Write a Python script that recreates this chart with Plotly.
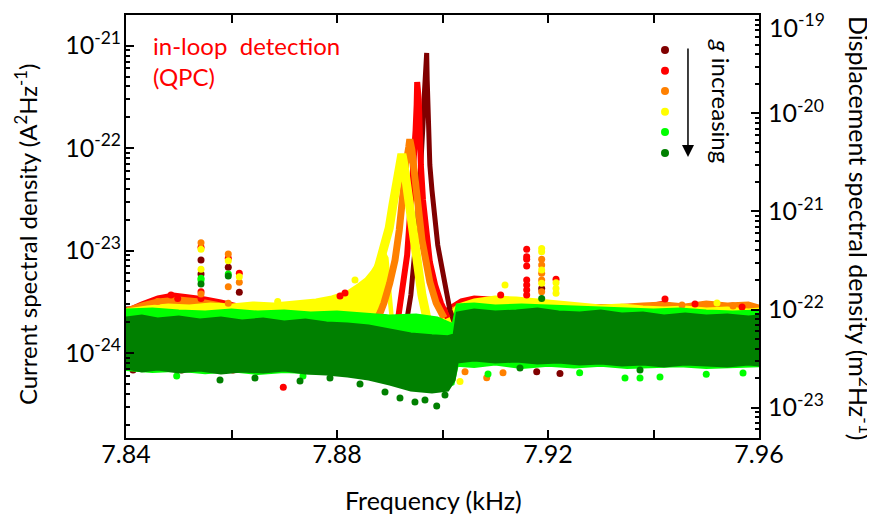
import plotly.graph_objects as go

# All spectral values below are in units of 1e-24 A^2/Hz (scaled when plotted)
SCALE = 1e-24

COLORS = {
    "darkred": "#800000",
    "red": "#FF0000",
    "orange": "#FF8000",
    "yellow": "#FFFF00",
    "lightgreen": "#00FF00",
    "darkgreen": "#008000",
}

# ---- noise floor bands (upper / lower edge of each point cloud) ----
dr_band_f = [7.840, 7.850, 7.860, 7.870, 7.880, 7.8925, 7.9000, 7.9020, 7.905, 7.910,
             7.920, 7.930, 7.940, 7.950, 7.960]
dr_band_hi = [2.75, 2.88, 2.81, 2.88, 2.94, 2.10, 2.10, 2.75, 2.94, 3.01,
              2.94, 2.88, 2.94, 2.88, 2.81]
dr_band_lo = [1.20] * 15

red_band_f = [7.840, 7.843, 7.846, 7.849, 7.852, 7.855, 7.858, 7.862, 7.868, 7.874,
              7.879, 7.8825, 7.885, 7.8870, 7.890, 7.8995, 7.9010, 7.9035, 7.906, 7.909,
              7.912, 7.916, 7.922, 7.930, 7.938, 7.942, 7.944, 7.948, 7.952, 7.955,
              7.957, 7.960]
red_band_hi = [2.63, 3.08, 3.52, 3.77, 3.60, 3.44, 3.22, 2.88, 2.88, 2.94,
               3.29, 3.68, 3.29, 2.51, 2.10, 2.10, 2.75, 3.29, 3.52, 3.44,
               3.15, 3.01, 2.88, 2.88, 2.88, 3.15, 2.88, 2.94, 2.88, 3.01,
               2.88, 2.75]
red_band_lo = [1.20] * 32

or_band_f = [7.840, 7.843, 7.846, 7.850, 7.854, 7.857, 7.860, 7.865, 7.870, 7.875,
             7.880, 7.884, 7.8875, 7.8885, 7.8995, 7.9005, 7.903, 7.908, 7.914, 7.920,
             7.926, 7.932, 7.938, 7.942, 7.946, 7.950, 7.954, 7.958, 7.960]
or_band_hi = [2.69, 3.01, 3.29, 3.44, 3.29, 3.08, 2.88, 2.88, 2.94, 3.01,
              3.15, 3.29, 2.63, 2.10, 2.10, 2.51, 2.88, 3.01, 3.08, 2.94,
              2.88, 2.88, 3.01, 3.08, 2.94, 3.15, 3.01, 3.08, 2.88]
or_band_lo = [1.20] * 29

ye_band_f = [7.840, 7.844, 7.848, 7.852, 7.856, 7.860, 7.864, 7.868, 7.872, 7.876,
             7.879, 7.882, 7.884, 7.8855, 7.8866, 7.8878, 7.8887, 7.8895, 7.8905, 7.8925,
             7.8950, 7.8975, 7.8995, 7.9010, 7.903, 7.906, 7.910, 7.914, 7.918, 7.922,
             7.926, 7.930, 7.934, 7.938, 7.942, 7.946, 7.950, 7.954, 7.958, 7.960]
ye_band_hi = [2.63, 2.81, 2.94, 2.88, 3.01, 2.94, 3.08, 3.01, 3.15, 3.29,
              3.52, 3.94, 4.61, 5.28, 6.18, 7.73, 10.13, 8.46, 2.20, 2.10,
              2.10, 2.01, 2.10, 2.30, 2.94, 3.29, 3.52, 3.44, 3.29, 3.15,
              3.01, 2.88, 2.94, 2.81, 2.75, 2.81, 2.69, 2.75, 2.63, 2.69]
ye_band_lo = [1.20] * 13 + [1.68, 2.20, 2.88, 3.94, 4.93, 1.68, 1.60, 1.60, 1.53, 1.53] + [1.20] * 17

lg_band_f = [7.840, 7.845, 7.850, 7.855, 7.860, 7.865, 7.870, 7.875, 7.880, 7.885,
             7.890, 7.895, 7.899, 7.9020, 7.9028, 7.906, 7.910, 7.915, 7.920, 7.925,
             7.930, 7.935, 7.940, 7.945, 7.950, 7.955, 7.960]
lg_band_hi = [2.63, 2.69, 2.57, 2.51, 2.63, 2.51, 2.57, 2.46, 2.51, 2.40,
              2.30, 2.35, 2.20, 1.88, 2.94, 3.01, 2.88, 2.94, 2.88, 2.81,
              2.75, 2.69, 2.63, 2.69, 2.57, 2.51, 2.57]
lg_band_lo = [0.69, 0.66, 0.68, 0.64, 0.67, 0.63, 0.66, 0.64, 0.64, 0.59,
              0.51, 0.45, 0.43, 0.50, 0.76, 0.74, 0.78, 0.72, 0.76, 0.73,
              0.76, 0.72, 0.74, 0.75, 0.72, 0.73, 0.75]

dg_band_f = [7.840, 7.843, 7.846, 7.850, 7.854, 7.858, 7.862, 7.866, 7.870, 7.874,
             7.878, 7.882, 7.886, 7.890, 7.894, 7.898, 7.901, 7.9022, 7.9028, 7.906,
             7.910, 7.914, 7.918, 7.922, 7.926, 7.930, 7.934, 7.938, 7.942, 7.946,
             7.950, 7.954, 7.958, 7.960]
dg_band_hi = [2.20, 2.30, 2.15, 2.25, 2.10, 2.20, 2.05, 2.15, 2.01, 2.10,
              1.96, 1.92, 1.84, 1.68, 1.53, 1.47, 1.44, 1.50, 2.46, 2.63,
              2.51, 2.57, 2.69, 2.51, 2.46, 2.57, 2.40, 2.46, 2.30, 2.40,
              2.30, 2.35, 2.25, 2.30]
dg_band_lo = [0.714, 0.667, 0.698, 0.652, 0.682, 0.638, 0.667, 0.652, 0.682, 0.638,
              0.624, 0.596, 0.557, 0.498, 0.435, 0.416, 0.435, 0.545, 0.817, 0.854,
              0.817, 0.835, 0.799, 0.817, 0.781, 0.799, 0.763, 0.781, 0.746, 0.781,
              0.763, 0.746, 0.781, 0.763]

# ---- resonance peaks ----
dr_peak_f = [7.8925, 7.8933, 7.8940, 7.8946, 7.8952, 7.8956, 7.8960, 7.8963, 7.8966, 7.8968,
             7.8970, 7.8971, 7.8972, 7.8974, 7.8976, 7.8980, 7.8986, 7.8991, 7.8998, 7.9007,
             7.9014, 7.9024]
dr_peak_v = [1.50, 2.20, 3.68, 7.73, 17.8, 39.0, 76.6, 168, 369, 648,
             850, 463, 236, 120, 68.4, 39.0, 19.0, 11.3, 7.23, 4.12,
             2.63, 1.88]

red_peak_f = [7.8916, 7.8921, 7.8927, 7.8933, 7.8937, 7.8942, 7.8946, 7.8949, 7.8951, 7.8952,
              7.8955, 7.8956, 7.8959, 7.8963, 7.8969, 7.8976, 7.8986, 7.8997, 7.9010]
red_peak_v = [2.20, 3.29, 5.16, 9.05, 17.8, 39.0, 76.6, 150, 264, 442,
              295, 150, 68.4, 31.2, 15.2, 7.73, 4.61, 3.08, 2.20]

or_peak_f = [7.8878, 7.8889, 7.8900, 7.8910, 7.8918, 7.8925, 7.8931, 7.8936, 7.8938, 7.8942,
             7.8948, 7.8955, 7.8961, 7.8969, 7.8976, 7.8988, 7.9003]
or_peak_v = [2.20, 3.08, 4.82, 8.08, 15.8, 39.0, 71.4, 102, 122, 95.6,
             48.7, 24.8, 12.7, 7.73, 4.93, 3.08, 2.20]

ye_peak_f = [7.8834, 7.8853, 7.8866, 7.8878, 7.8889, 7.8899, 7.8906, 7.8912, 7.8918, 7.8923,
             7.8927, 7.8932, 7.8936, 7.8942, 7.8948, 7.8955, 7.8961, 7.8969, 7.8976]
ye_peak_v = [3.44, 4.12, 4.93, 6.75, 10.1, 16.6, 27.8, 43.5, 68.2, 87.4,
             68.2, 43.5, 26.6, 15.8, 9.46, 5.77, 3.68, 2.35, 1.75]

# ---- isolated points (spurs and outliers) ----
dr_pts_f = [7.85422, 7.85422, 7.85939, 7.86148, 7.91880, 7.85056, 7.84133, 7.91786, 7.92227]
dr_pts_v = [8.09, 5.91, 6.87, 3.91, 4.27, 0.682, 0.682, 0.656, 0.632]

red_pts_f = [7.85422, 7.85422, 7.85422, 7.85939, 7.86148, 7.91596, 7.91596, 7.91596, 7.91596,
             7.91596, 7.91596, 7.91596, 7.91596, 7.92152, 7.91103, 7.94218, 7.94787, 7.95679,
             7.88152, 7.88057, 7.84853, 7.84980, 7.86982, 7.86028]
red_pts_v = [10.8, 3.97, 3.40, 8.40, 6.00, 10.3, 8.71, 8.22, 7.07,
             5.16, 4.61, 4.12, 3.68, 5.24, 3.68, 3.37, 3.01, 2.81,
             3.86, 3.60, 3.68, 3.40, 0.463, 0.682]

or_pts_f = [7.85422, 7.85422, 7.85939, 7.85939, 7.85939, 7.86148, 7.91880, 7.91880, 7.91880,
            7.91880, 7.91880, 7.94540, 7.95508, 7.84601, 7.90080, 7.90427, 7.90838, 7.91147]
or_pts_v = [11.9, 3.77, 9.26, 4.44, 3.06, 4.90, 8.22, 7.23, 6.00,
            5.16, 3.97, 2.94, 2.88, 3.19, 0.610, 0.656, 0.574, 0.640]

ye_pts_f = [7.85422, 7.85422, 7.85939, 7.86148, 7.91880, 7.91880, 7.91880, 7.91880, 7.92152,
            7.92152, 7.92152, 7.91185, 7.95204, 7.86876, 7.88341, 7.90332]
ye_pts_v = [10.3, 6.56, 7.96, 5.56, 10.5, 9.76, 6.46, 4.79, 4.86,
            4.27, 3.83, 4.61, 3.08, 3.19, 5.16, 0.528]

lg_pts_f = [7.85422, 7.85422, 7.85939, 7.84961, 7.90863, 7.93744, 7.94123, 7.93460, 7.95697,
            7.87355, 7.92600, 7.95000]
lg_pts_v = [5.36, 5.16, 5.91, 0.596, 0.624, 0.570, 0.583, 0.570, 0.638,
            0.596, 0.640, 0.620]

dg_pts_f = [7.85422, 7.85939, 7.91880, 7.85782, 7.86445, 7.87299, 7.87867, 7.88436, 7.88910,
            7.89194, 7.89478, 7.89668, 7.89890, 7.90047, 7.91469, 7.93744]
dg_pts_v = [4.72, 5.65, 3.40, 0.545, 0.570, 0.533, 0.570, 0.498, 0.416,
            0.364, 0.332, 0.348, 0.304, 0.389, 0.714, 0.682]

# axis labels
x_tickvals = [7.84, 7.86, 7.88, 7.90, 7.92, 7.94, 7.96]
x_ticktext = ["7.84", "", "7.88", "", "7.92", "", "7.96"]
y_tickvals = [1e-24, 1e-23, 1e-22, 1e-21]
y_ticktext = ["10<sup>-24</sup>", "10<sup>-23</sup>", "10<sup>-22</sup>", "10<sup>-21</sup>"]
y2_tickvals = [1e-23, 1e-22, 1e-21, 1e-20, 1e-19]
# the top label sits at the page edge, it is placed separately so it is not clipped
y2_ticktext = ["10<sup>-23</sup>", "10<sup>-22</sup>", "10<sup>-21</sup>", "10<sup>-20</sup>", ""]
y2_top_label = "10<sup>-19</sup>"

FONT = "Lato, 'Open Sans', sans-serif"


def band(f, hi, lo, color):
    xs = list(f) + list(f)[::-1]
    ys = [v * SCALE for v in list(hi) + list(lo)[::-1]]
    return go.Scatter(x=xs, y=ys, mode="lines", fill="toself", fillcolor=color,
                      line=dict(color=color, width=3), hoverinfo="skip", showlegend=False)


def peak(f, v, color, width):
    return go.Scatter(x=f, y=[a * SCALE for a in v], mode="lines",
                      line=dict(color=color, width=width), hoverinfo="skip", showlegend=False)


def points(f, v, color):
    return go.Scatter(x=f, y=[a * SCALE for a in v], mode="markers",
                      marker=dict(color=color, size=7), hoverinfo="skip", showlegend=False)


fig = go.Figure()

# warm colours first, greens on top (as in the original stacking)
fig.add_trace(band(dr_band_f, dr_band_hi, dr_band_lo, COLORS["darkred"]))
fig.add_trace(band(red_band_f, red_band_hi, red_band_lo, COLORS["red"]))
fig.add_trace(band(or_band_f, or_band_hi, or_band_lo, COLORS["orange"]))
fig.add_trace(band(ye_band_f, ye_band_hi, ye_band_lo, COLORS["yellow"]))

fig.add_trace(peak(dr_peak_f, dr_peak_v, COLORS["darkred"], 5))
fig.add_trace(peak(red_peak_f, red_peak_v, COLORS["red"], 6))
fig.add_trace(peak(or_peak_f, or_peak_v, COLORS["orange"], 7))
fig.add_trace(peak(ye_peak_f, ye_peak_v, COLORS["yellow"], 9))

fig.add_trace(points(dr_pts_f, dr_pts_v, COLORS["darkred"]))
fig.add_trace(points(red_pts_f, red_pts_v, COLORS["red"]))
fig.add_trace(points(or_pts_f, or_pts_v, COLORS["orange"]))
fig.add_trace(points(ye_pts_f, ye_pts_v, COLORS["yellow"]))

fig.add_trace(band(lg_band_f, lg_band_hi, lg_band_lo, COLORS["lightgreen"]))
fig.add_trace(points(lg_pts_f, lg_pts_v, COLORS["lightgreen"]))
fig.add_trace(band(dg_band_f, dg_band_hi, dg_band_lo, COLORS["darkgreen"]))
fig.add_trace(points(dg_pts_f, dg_pts_v, COLORS["darkgreen"]))

# empty trace so the right-hand axis is drawn
fig.add_trace(go.Scatter(x=[None], y=[None], yaxis="y2", showlegend=False))

minor_left = [m * 10.0 ** e for e in range(-25, -20) for m in range(2, 10)]
minor_right = [m * 10.0 ** e for e in range(-24, -19) for m in range(2, 10)]

axis_common = dict(showgrid=False, zeroline=False, showline=True, linewidth=2,
                   linecolor="black", ticks="inside", ticklen=8, tickwidth=2,
                   tickcolor="black", tickfont=dict(size=25, color="black"),
                   automargin=False, ticklabeloverflow="allow")

# the page body adds an 8px margin, so the figure is 8px smaller than the window
fig.update_layout(
    width=867, height=512,
    margin=dict(l=118, r=116, t=7, b=82, autoexpand=False),
    plot_bgcolor="white", paper_bgcolor="white",
    font=dict(family=FONT, size=24, color="black"),
    showlegend=False,
    xaxis=dict(range=[7.84, 7.96], mirror="ticks", tickmode="array",
               tickvals=x_tickvals, ticktext=x_ticktext, ticklabelstandoff=-7, **axis_common),
    yaxis=dict(type="log", range=[-24.830, -20.700], mirror=True, tickmode="array",
               tickvals=y_tickvals, ticktext=y_ticktext, ticklabelstandoff=-2,
               minor=dict(tickmode="array", tickvals=minor_left, ticks="inside",
                          ticklen=4, tickwidth=1.5, tickcolor="black"),
               **axis_common),
    yaxis2=dict(type="log", range=[-23.309, -18.998], overlaying="y", side="right",
                tickmode="array", tickvals=y2_tickvals, ticktext=y2_ticktext, ticklabelstandoff=2,
                minor=dict(tickmode="array", tickvals=minor_right, ticks="inside",
                           ticklen=4, tickwidth=1.5, tickcolor="black"),
                **axis_common),
)

fig.add_annotation(text=y2_top_label, xref="paper", yref="paper", x=1.0142, y=1.0165,
                   xanchor="left", yanchor="top", showarrow=False, borderpad=0,
                   font=dict(size=25))

# axis titles
fig.add_annotation(text="Frequency (kHz)", xref="paper", yref="paper", x=0.4858, y=-0.1466,
                   xanchor="center", yanchor="middle", showarrow=False, font=dict(size=25))
fig.add_annotation(text="Current spectral density (A<sup>2</sup>Hz<sup>-1</sup>)",
                   xref="paper", yref="paper", x=-0.158, y=0.482, textangle=-90,
                   xanchor="center", yanchor="middle", showarrow=False, font=dict(size=24))
fig.add_annotation(text="Displacement spectral density (m<sup>2</sup>Hz<sup>-1</sup>)",
                   xref="paper", yref="paper", x=1.160, y=0.496, textangle=90,
                   xanchor="center", yanchor="middle", showarrow=False, font=dict(size=25))

# label in the corner
fig.add_annotation(text="in-loop\u00a0 detection<br>(QPC)", xref="paper", yref="paper",
                   x=0.041, y=0.965, xanchor="left", yanchor="top", align="left",
                   showarrow=False, borderpad=0, font=dict(size=24, color="#FF0000"))

# colour key with arrow
key_y = [0.9173, 0.8683, 0.8203, 0.7714, 0.7234, 0.6738]
key_colors = ["darkred", "red", "orange", "yellow", "lightgreen", "darkgreen"]
for yy, c in zip(key_y, key_colors):
    fig.add_shape(type="circle", xref="paper", yref="paper", xsizemode="pixel", ysizemode="pixel",
                  xanchor=0.8515, yanchor=yy, x0=-4, x1=4, y0=-4, y1=4,
                  fillcolor=COLORS[c], line_width=0)

fig.add_annotation(x=0.8878, y=0.6643, xref="paper", yref="paper", ax=0, ay=-110,
                   text="", showarrow=True, arrowhead=2, arrowsize=1.6, arrowwidth=1.5,
                   arrowcolor="black", standoff=0)
fig.add_annotation(text="<i>g</i> increasing", xref="paper", yref="paper", x=0.9400, y=0.7967,
                   textangle=90, xanchor="center", yanchor="middle", showarrow=False,
                   font=dict(size=24))

fig.write_html("out.html")
